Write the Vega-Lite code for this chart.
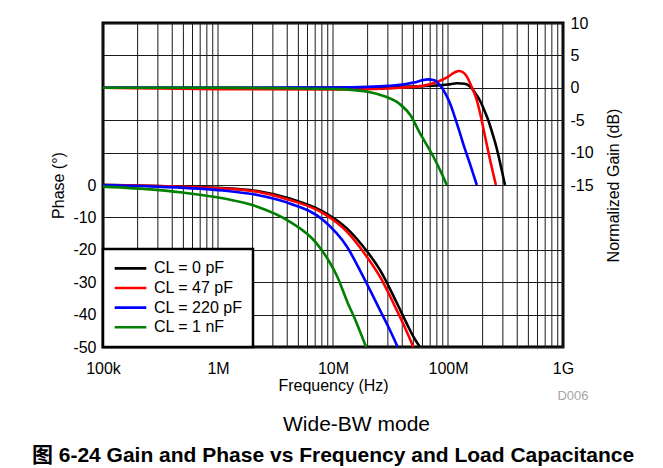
{
  "$schema": "https://vega.github.io/schema/vega-lite/v6.json",
  "width": 460,
  "height": 324,
  "autosize": {"type": "none"},
  "padding": {"left": 103, "top": 23, "right": 100, "bottom": 121},
  "background": "white",
  "title": {
    "text": "图 6-24  Gain and Phase vs Frequency and Load Capacitance",
    "orient": "bottom",
    "anchor": "middle",
    "font": "Liberation Sans, Arial, Noto Sans CJK SC",
    "fontSize": 21,
    "fontWeight": "bold",
    "color": "black",
    "offset": 11
  },
  "config": {
    "font": "Liberation Sans, Arial, Noto Sans CJK SC",
    "view": {"stroke": "black", "strokeWidth": 3},
    "axis": {
      "labelFont": "Liberation Sans, Arial",
      "labelFontSize": 16,
      "labelColor": "black",
      "titleFont": "Liberation Sans, Arial",
      "titleFontSize": 16,
      "titleFontWeight": "normal",
      "titleColor": "black",
      "ticks": false,
      "domain": false,
      "gridColor": "#1a1a1a",
      "gridOpacity": 1,
      "gridWidth": 1,
      "labelOverlap": false,
      "labelFlush": false
    },
    "legend": {
      "strokeColor": "black",
      "strokeWidth": 2.5,
      "fillColor": "white",
      "padding": 10,
      "symbolType": "stroke",
      "symbolSize": 1000,
      "symbolStrokeWidth": 2.6,
      "labelFont": "Liberation Sans, Arial",
      "labelFontSize": 16,
      "labelColor": "black",
      "labelOffset": 6,
      "labelLimit": 0,
      "clipHeight": 18.8,
      "rowPadding": 0.6
    }
  },
  "datasets": {
    "grid": [
      {"f": 100000}, {"f": 200000}, {"f": 300000}, {"f": 400000}, {"f": 500000}, {"f": 600000}, {"f": 700000}, {"f": 800000}, {"f": 900000},
      {"f": 1000000}, {"f": 2000000}, {"f": 3000000}, {"f": 4000000}, {"f": 5000000}, {"f": 6000000}, {"f": 7000000}, {"f": 8000000}, {"f": 9000000},
      {"f": 10000000}, {"f": 20000000}, {"f": 30000000}, {"f": 40000000}, {"f": 50000000}, {"f": 60000000}, {"f": 70000000}, {"f": 80000000}, {"f": 90000000},
      {"f": 100000000}, {"f": 200000000}, {"f": 300000000}, {"f": 400000000}, {"f": 500000000}, {"f": 600000000}, {"f": 700000000}, {"f": 800000000}, {"f": 900000000},
      {"f": 1000000000}
    ],
    "gain": [
      {"cl": "CL = 0 pF", "f": 100000, "g": 0},
      {"cl": "CL = 0 pF", "f": 1000000, "g": 0},
      {"cl": "CL = 0 pF", "f": 10000000, "g": 0.02},
      {"cl": "CL = 0 pF", "f": 20000000, "g": 0.05},
      {"cl": "CL = 0 pF", "f": 40000000, "g": 0.15},
      {"cl": "CL = 0 pF", "f": 60000000, "g": 0.25},
      {"cl": "CL = 0 pF", "f": 80000000, "g": 0.35},
      {"cl": "CL = 0 pF", "f": 100000000, "g": 0.5},
      {"cl": "CL = 0 pF", "f": 120000000, "g": 0.7},
      {"cl": "CL = 0 pF", "f": 140000000, "g": 0.62},
      {"cl": "CL = 0 pF", "f": 150000000, "g": 0.4},
      {"cl": "CL = 0 pF", "f": 160000000, "g": 0.0},
      {"cl": "CL = 0 pF", "f": 175000000, "g": -1.0},
      {"cl": "CL = 0 pF", "f": 190000000, "g": -2.0},
      {"cl": "CL = 0 pF", "f": 205000000, "g": -3.3},
      {"cl": "CL = 0 pF", "f": 224000000, "g": -5.0},
      {"cl": "CL = 0 pF", "f": 245000000, "g": -7.2},
      {"cl": "CL = 0 pF", "f": 263000000, "g": -9.1},
      {"cl": "CL = 0 pF", "f": 280000000, "g": -11.1},
      {"cl": "CL = 0 pF", "f": 293000000, "g": -12.7},
      {"cl": "CL = 0 pF", "f": 313000000, "g": -15.0},
      {"cl": "CL = 47 pF", "f": 100000, "g": 0},
      {"cl": "CL = 47 pF", "f": 300000, "g": -0.1},
      {"cl": "CL = 47 pF", "f": 1000000, "g": -0.2},
      {"cl": "CL = 47 pF", "f": 10000000, "g": -0.25},
      {"cl": "CL = 47 pF", "f": 20000000, "g": -0.2},
      {"cl": "CL = 47 pF", "f": 30000000, "g": -0.1},
      {"cl": "CL = 47 pF", "f": 40000000, "g": 0.05},
      {"cl": "CL = 47 pF", "f": 60000000, "g": 0.3},
      {"cl": "CL = 47 pF", "f": 80000000, "g": 0.9},
      {"cl": "CL = 47 pF", "f": 100000000, "g": 1.7},
      {"cl": "CL = 47 pF", "f": 115000000, "g": 2.4},
      {"cl": "CL = 47 pF", "f": 125000000, "g": 2.6},
      {"cl": "CL = 47 pF", "f": 135000000, "g": 2.4},
      {"cl": "CL = 47 pF", "f": 145000000, "g": 1.8},
      {"cl": "CL = 47 pF", "f": 160000000, "g": 0.2},
      {"cl": "CL = 47 pF", "f": 178000000, "g": -1.9},
      {"cl": "CL = 47 pF", "f": 190000000, "g": -3.9},
      {"cl": "CL = 47 pF", "f": 210000000, "g": -7.5},
      {"cl": "CL = 47 pF", "f": 232000000, "g": -11.1},
      {"cl": "CL = 47 pF", "f": 261000000, "g": -15.0},
      {"cl": "CL = 220 pF", "f": 100000, "g": 0},
      {"cl": "CL = 220 pF", "f": 1000000, "g": 0},
      {"cl": "CL = 220 pF", "f": 10000000, "g": 0.05},
      {"cl": "CL = 220 pF", "f": 20000000, "g": 0.15},
      {"cl": "CL = 220 pF", "f": 30000000, "g": 0.3},
      {"cl": "CL = 220 pF", "f": 38000000, "g": 0.45},
      {"cl": "CL = 220 pF", "f": 50000000, "g": 0.8},
      {"cl": "CL = 220 pF", "f": 67000000, "g": 1.3},
      {"cl": "CL = 220 pF", "f": 76000000, "g": 1.15},
      {"cl": "CL = 220 pF", "f": 85000000, "g": 0.4},
      {"cl": "CL = 220 pF", "f": 95000000, "g": -0.9},
      {"cl": "CL = 220 pF", "f": 104000000, "g": -2.4},
      {"cl": "CL = 220 pF", "f": 115000000, "g": -4.6},
      {"cl": "CL = 220 pF", "f": 127000000, "g": -7.0},
      {"cl": "CL = 220 pF", "f": 140000000, "g": -9.4},
      {"cl": "CL = 220 pF", "f": 155000000, "g": -11.7},
      {"cl": "CL = 220 pF", "f": 178000000, "g": -15.0},
      {"cl": "CL = 1 nF", "f": 100000, "g": 0},
      {"cl": "CL = 1 nF", "f": 1000000, "g": 0},
      {"cl": "CL = 1 nF", "f": 3000000, "g": -0.05},
      {"cl": "CL = 1 nF", "f": 11000000, "g": -0.2},
      {"cl": "CL = 1 nF", "f": 20000000, "g": -0.6},
      {"cl": "CL = 1 nF", "f": 28000000, "g": -1.3},
      {"cl": "CL = 1 nF", "f": 38000000, "g": -2.5},
      {"cl": "CL = 1 nF", "f": 47000000, "g": -4.2},
      {"cl": "CL = 1 nF", "f": 57000000, "g": -7.0},
      {"cl": "CL = 1 nF", "f": 74500000, "g": -10.6},
      {"cl": "CL = 1 nF", "f": 88000000, "g": -13.2},
      {"cl": "CL = 1 nF", "f": 97500000, "g": -15.0}
    ],
    "phase": [
      {"cl": "CL = 0 pF", "f": 100000, "p": 0},
      {"cl": "CL = 0 pF", "f": 300000, "p": -0.3},
      {"cl": "CL = 0 pF", "f": 1000000, "p": -0.9},
      {"cl": "CL = 0 pF", "f": 2200000, "p": -1.9},
      {"cl": "CL = 0 pF", "f": 4200000, "p": -4.2},
      {"cl": "CL = 0 pF", "f": 8200000, "p": -8.2},
      {"cl": "CL = 0 pF", "f": 13200000, "p": -13.4},
      {"cl": "CL = 0 pF", "f": 18300000, "p": -19.0},
      {"cl": "CL = 0 pF", "f": 25600000, "p": -26.2},
      {"cl": "CL = 0 pF", "f": 36000000, "p": -36.5},
      {"cl": "CL = 0 pF", "f": 43700000, "p": -42.7},
      {"cl": "CL = 0 pF", "f": 50000000, "p": -46.8},
      {"cl": "CL = 0 pF", "f": 57000000, "p": -50.0},
      {"cl": "CL = 47 pF", "f": 100000, "p": 0},
      {"cl": "CL = 47 pF", "f": 300000, "p": -0.3},
      {"cl": "CL = 47 pF", "f": 1000000, "p": -1.0},
      {"cl": "CL = 47 pF", "f": 2200000, "p": -2.1},
      {"cl": "CL = 47 pF", "f": 4200000, "p": -4.6},
      {"cl": "CL = 47 pF", "f": 8200000, "p": -8.7},
      {"cl": "CL = 47 pF", "f": 13200000, "p": -14.4},
      {"cl": "CL = 47 pF", "f": 18300000, "p": -20.6},
      {"cl": "CL = 47 pF", "f": 25600000, "p": -28.3},
      {"cl": "CL = 47 pF", "f": 35800000, "p": -38.6},
      {"cl": "CL = 47 pF", "f": 42000000, "p": -43.8},
      {"cl": "CL = 47 pF", "f": 50000000, "p": -50.0},
      {"cl": "CL = 220 pF", "f": 100000, "p": 0},
      {"cl": "CL = 220 pF", "f": 290000, "p": -0.5},
      {"cl": "CL = 220 pF", "f": 1100000, "p": -1.7},
      {"cl": "CL = 220 pF", "f": 2200000, "p": -3.1},
      {"cl": "CL = 220 pF", "f": 4200000, "p": -5.7},
      {"cl": "CL = 220 pF", "f": 8200000, "p": -10.8},
      {"cl": "CL = 220 pF", "f": 13200000, "p": -19.0},
      {"cl": "CL = 220 pF", "f": 18300000, "p": -28.3},
      {"cl": "CL = 220 pF", "f": 25600000, "p": -38.6},
      {"cl": "CL = 220 pF", "f": 30500000, "p": -44.0},
      {"cl": "CL = 220 pF", "f": 36500000, "p": -50.0},
      {"cl": "CL = 1 nF", "f": 100000, "p": -0.5},
      {"cl": "CL = 1 nF", "f": 290000, "p": -1.5},
      {"cl": "CL = 1 nF", "f": 570000, "p": -2.6},
      {"cl": "CL = 1 nF", "f": 1100000, "p": -4.1},
      {"cl": "CL = 1 nF", "f": 2200000, "p": -6.7},
      {"cl": "CL = 1 nF", "f": 4200000, "p": -11.3},
      {"cl": "CL = 1 nF", "f": 7200000, "p": -18.0},
      {"cl": "CL = 1 nF", "f": 9400000, "p": -24.0},
      {"cl": "CL = 1 nF", "f": 10800000, "p": -28.0},
      {"cl": "CL = 1 nF", "f": 13300000, "p": -36.0},
      {"cl": "CL = 1 nF", "f": 16000000, "p": -42.5},
      {"cl": "CL = 1 nF", "f": 19400000, "p": -50.0}
    ]
  },
  "layer": [
    {
      "data": {"name": "grid"},
      "mark": {"type": "rule", "color": "#1a1a1a", "strokeWidth": 1},
      "encoding": {
        "x": {
          "field": "f", "type": "quantitative",
          "scale": {"type": "log", "domain": [100000, 1000000000]},
          "axis": {
            "orient": "bottom", "labels": false, "grid": false,
            "title": "D006", "titleColor": "#a6a6a6", "titleFontSize": 13,
            "titleX": 485, "titleY": 52, "titleAlign": "right", "titleBaseline": "alphabetic"
          }
        }
      }
    },
    {
      "data": {"name": "gain"},
      "mark": {"type": "line", "interpolate": "monotone", "strokeWidth": 2.6, "clip": true},
      "encoding": {
        "x": {
          "field": "f", "type": "quantitative",
          "scale": {"type": "log", "domain": [100000, 1000000000]},
          "axis": {
            "orient": "bottom", "grid": false,
            "values": [100000, 1000000, 10000000, 100000000, 1000000000],
            "labelExpr": "datum.value == 100000 ? '100k' : datum.value == 1000000 ? '1M' : datum.value == 10000000 ? '10M' : datum.value == 100000000 ? '100M' : '1G'",
            "labelPadding": 13,
            "title": "Frequency (Hz)", "titleX": 230, "titleY": 43, "titleAlign": "center", "titleBaseline": "alphabetic"
          }
        },
        "y": {
          "field": "g", "type": "quantitative",
          "scale": {"domain": [-40, 10], "nice": false},
          "axis": {
            "orient": "right", "grid": true,
            "values": [-40, -35, -30, -25, -20, -15, -10, -5, 0, 5, 10],
            "labelExpr": "datum.value >= -15 ? toString(datum.value) : ''",
            "labelPadding": 7,
            "title": "Normalized Gain (dB)", "titleAngle": 270, "titleX": 55, "titleY": 162,
            "titleAlign": "center", "titleBaseline": "alphabetic"
          }
        },
        "color": {
          "field": "cl", "type": "nominal",
          "scale": {"domain": ["CL = 0 pF", "CL = 47 pF", "CL = 220 pF", "CL = 1 nF"], "range": ["#000000", "#ff0000", "#0000ff", "#008000"]},
          "legend": {"orient": "bottom-left", "offset": 0, "title": null}
        }
      }
    },
    {
      "data": {"name": "phase"},
      "mark": {"type": "line", "interpolate": "monotone", "strokeWidth": 2.6, "clip": true},
      "encoding": {
        "x": {
          "field": "f", "type": "quantitative",
          "scale": {"type": "log", "domain": [100000, 1000000000]},
          "axis": {
            "orient": "bottom", "labels": false, "grid": false,
            "title": "Wide-BW mode", "titleFontSize": 21,
            "titleX": 253, "titleY": 83, "titleAlign": "center", "titleBaseline": "alphabetic"
          }
        },
        "y": {
          "field": "p", "type": "quantitative",
          "scale": {"domain": [-50, 50], "nice": false},
          "axis": {
            "orient": "left", "grid": false,
            "values": [0, -10, -20, -30, -40, -50],
            "labelExpr": "toString(datum.value)",
            "labelPadding": 7,
            "title": "Phase (°)", "titleAngle": 270, "titleX": -40, "titleY": 162,
            "titleAlign": "center", "titleBaseline": "alphabetic"
          }
        },
        "color": {
          "field": "cl", "type": "nominal",
          "scale": {"domain": ["CL = 0 pF", "CL = 47 pF", "CL = 220 pF", "CL = 1 nF"], "range": ["#000000", "#ff0000", "#0000ff", "#008000"]},
          "legend": {"orient": "bottom-left", "offset": 0, "title": null}
        }
      }
    }
  ],
  "resolve": {
    "scale": {"y": "independent"},
    "axis": {"x": "independent", "y": "independent"}
  }
}
